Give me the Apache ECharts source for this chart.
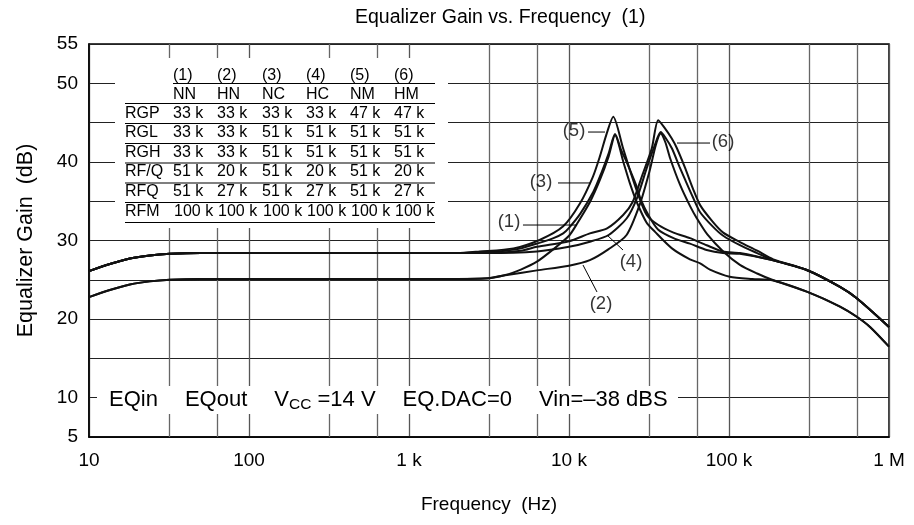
<!DOCTYPE html>
<html>
<head>
<meta charset="utf-8">
<script src="https://cdn.jsdelivr.net/npm/echarts@6/dist/echarts.min.js"></script>
<style>html,body{margin:0;padding:0;background:#fff}#c{width:914px;height:525px}</style>
</head>
<body>
<div id="c"></div>
<script>
// ---- data (frequency in Hz, gain in dB) ----
const curveNames = ['(1) NN', '(2) HN', '(3) NC', '(4) HC', '(5) NM', '(6) HM'];
const f1 = [10,13.5,18,24,32,50,100,300,1000,2000,3000,4000,5000,6300,8000,10000,11200,13600,15600,17700,19400,22000,24000,26500,30500,34500,44000,57000,66000,76000,101000,140000,186000,306000,494000,629000,761000,1000000];
const g1 = [22.8,23.7,24.4,24.8,25.0,25.1,25.1,25.1,25.1,25.1,25.15,25.6,26.3,27.3,28.9,30.6,32.1,35.0,37.7,40.7,43.4,39.8,37.3,34.9,32.3,31.1,29.0,27.6,27.1,26.3,25.4,25.1,24.95,23.5,21.6,20.3,19.0,16.5];
const f2 = [10,13.5,18,24,32,50,100,300,1000,2000,3100,4100,6300,10000,13500,17700,22900,27600,31800,34900,37400,40000,42800,49400,57000,63000,73000,92000,117000,150000,186000,306000,494000,629000,761000,1000000];
const g2 = [22.8,23.7,24.4,24.8,25.0,25.1,25.1,25.1,25.1,25.1,25.2,25.6,26.2,26.8,27.5,28.9,30.7,34.5,38.75,42.15,43.6,42.5,40.5,37.1,34.4,32.8,30.8,28.6,26.9,25.8,25.0,23.5,21.6,20.3,19.0,16.5];
const f3 = [10,13.5,18,24,32,50,100,300,1000,2000,3000,4000,5000,6300,8000,9200,10000,11800,14200,15900,17700,19400,21200,22900,26200,28000,31400,36000,45000,57000,72500,91500,117000,186000,306000,494000,629000,1000000];
const g3 = [26.1,27.0,27.7,28.1,28.3,28.4,28.4,28.4,28.4,28.4,28.5,28.7,29.0,29.6,30.3,30.9,31.6,33.45,36.2,38.55,41.1,43.55,41.5,40.0,37.1,35.3,33.2,31.4,30.3,29.6,28.8,28.4,28.3,27.5,26.25,24.1,22.65,19.0];
const f4 = [10,13.5,18,24,32,50,100,300,1000,2000,3000,6300,10000,13500,17700,22900,26600,30600,34400,37400,40000,44000,49000,53000,59500,66000,79000,92000,117000,150000,189000,306000,494000,629000,1000000];
const g4 = [26.1,27.0,27.7,28.1,28.3,28.4,28.4,28.4,28.4,28.4,28.4,28.6,29.2,29.85,30.7,32.8,35.4,39.2,42.15,43.8,43.1,41.7,39.4,37.8,35.5,33.6,31.8,30.6,29.4,28.4,27.5,26.25,24.1,22.65,19.0];
const f5 = [10,13.5,18,24,32,50,100,300,1000,2000,2760,4500,6600,9200,11700,14100,15600,17200,18900,21800,24600,27100,30600,36000,45000,57000,72500,91500,117000,186000,306000,494000,629000,1000000];
const g5 = [26.1,27.0,27.7,28.1,28.3,28.4,28.4,28.4,28.4,28.4,28.6,29.0,30.1,31.8,34.7,38.1,40.7,43.6,45.75,41.7,38.3,35.8,33.25,32.0,31.0,30.3,29.4,28.6,28.4,27.5,26.25,24.1,22.65,19.0];
const f6 = [10,13.5,18,24,32,50,100,300,1000,2000,3000,5000,6300,10000,13500,17300,21800,25000,28700,32900,36100,40000,43800,47100,53000,59500,66000,79000,92000,117000,150000,189000,306000,494000,629000,1000000];
const g6 = [26.1,27.0,27.7,28.1,28.3,28.4,28.4,28.4,28.4,28.4,28.4,28.7,29.2,29.9,30.9,31.55,33.25,34.9,38.3,41.7,45.3,44.2,43.0,41.8,39.3,36.6,34.5,32.4,31.0,29.8,28.7,27.6,26.25,24.1,22.65,19.0];

// curve label annotations (data space)
const curveLabels = ['(1)','(2)','(3)','(4)','(5)','(6)'];
const labelFreq = [4217, 15849, 6683, 24409, 10746, 91728];
const labelGain = [32.35, 21.92, 37.44, 27.26, 43.93, 42.53];
const leaderFromFreq = [5157, 12232, 8536, 17278, 13148, 47315];
const leaderFromGain = [31.97, 26.88, 37.32, 30.70, 43.8, 42.4];
const leaderToFreq = [11220, 14962, 13530, 21752, 16788, 76089];
const leaderToGain = [31.97, 23.45, 37.32, 28.79, 43.8, 42.4];

// axes
const xTickLabels = ['10', '100', '1 k', '10 k', '100 k', '1 M'];
const yTickLabels = [5, 10, 20, 30, 40, 50, 55];
const minorGridFreqs = [31.6, 63.1, 316, 631, 3160, 6310, 31600, 63100, 316000, 631000];

// parts table
const tableCols = ['(1)', '(2)', '(3)', '(4)', '(5)', '(6)'];
const tableCodes = ['NN', 'HN', 'NC', 'HC', 'NM', 'HM'];
const tableRows = ['RGP', 'RGL', 'RGH', 'RF/Q', 'RFQ', 'RFM'];
const tableValues = [
  ['33 k','33 k','33 k','33 k','47 k','47 k'],
  ['33 k','33 k','51 k','51 k','51 k','51 k'],
  ['33 k','33 k','51 k','51 k','51 k','51 k'],
  ['51 k','20 k','51 k','20 k','51 k','20 k'],
  ['51 k','27 k','51 k','27 k','51 k','27 k'],
  ['100 k','100 k','100 k','100 k','100 k','100 k']
];

// ---- chart ----
const FONT = '"Liberation Sans", Arial, Helvetica, sans-serif';
const zip = (f, g) => f.map((v, i) => [v, g[i]]);
const curves = [[f1,g1],[f2,g2],[f3,g3],[f4,g4],[f5,g5],[f6,g6]];

const series = curves.map((c, i) => ({
  name: curveNames[i], type: 'line', data: zip(c[0], c[1]),
  showSymbol: false, smooth: 0.25,
  lineStyle: { color: '#111', width: 2 }, z: 5, silent: true
}));

// minor vertical grid lines
series.push({
  type: 'line', data: [], silent: true, z: 1,
  markLine: {
    silent: true, symbol: ['none', 'none'], label: { show: false },
    lineStyle: { color: '#666', width: 1.3, type: 'solid' },
    data: minorGridFreqs.map(f => ({ xAxis: f }))
  }
});

// leader lines
curveLabels.forEach((l, i) => {
  series.push({
    type: 'line', silent: true, z: 6, showSymbol: false,
    lineStyle: { color: '#000', width: 1 },
    data: [[leaderFromFreq[i], leaderFromGain[i]], [leaderToFreq[i], leaderToGain[i]]]
  });
});

// curve labels
series.push({
  type: 'scatter', silent: true, z: 7, symbolSize: 1,
  itemStyle: { color: 'rgba(0,0,0,0)' },
  data: curveLabels.map((l, i) => [labelFreq[i], labelGain[i], l]),
  label: { show: true, position: 'inside', formatter: p => p.value[2],
    color: '#000', fontSize: 18.5, fontFamily: FONT }
});

// table graphics
const colX = [173, 217, 262, 306, 350, 394];
const rowY = [113.3, 132.5, 152.3, 172, 192, 211.7];
const graphics = [];
graphics.push({ type: 'rect', z: 50, shape: { x: 115, y: 58, width: 333, height: 170 }, style: { fill: '#fff' } });
const tstyle = (t, x, y) => ({ type: 'text', z: 52, x: x, y: y,
  style: { text: t, fill: '#000', fontSize: 16, fontFamily: FONT, verticalAlign: 'middle', align: 'left' } });
tableCols.forEach((t, j) => graphics.push(tstyle(t, colX[j], 76)));
tableCodes.forEach((t, j) => graphics.push(tstyle(t, colX[j], 94.5)));
tableRows.forEach((r, i) => {
  graphics.push(tstyle(r, 125, rowY[i]));
  tableValues[i].forEach((v, j) => graphics.push(tstyle(v, colX[j] + (i === 5 ? 1 : 0), rowY[i])));
});
const hl = (x1, x2, y) => ({ type: 'line', z: 51, shape: { x1: x1, y1: y, x2: x2, y2: y }, style: { stroke: '#000', lineWidth: 1.2 } });
graphics.push(hl(173, 435, 83.5));
[103.5, 123.5, 143.5, 163, 183, 202.5, 222.5].forEach(y => graphics.push(hl(125, 435, y)));

// bottom annotation
graphics.push({ type: 'rect', z: 50, shape: { x: 97, y: 386, width: 581, height: 28 }, style: { fill: '#fff' } });
graphics.push({ type: 'text', z: 52, x: 109, y: 400, style: {
  text: '{a|EQin}{g|}{a|EQout}{g|}{a|V}{s|CC}{a| =14 V}{g|}{a|EQ.DAC=0}{g|}{a|Vin=\u201338 dBS}',
  verticalAlign: 'middle', align: 'left',
  rich: {
    a: { fontSize: 22, fontFamily: FONT, fill: '#000' },
    g: { width: 27, fontSize: 22 },
    s: { fontSize: 15.5, fontFamily: FONT, fill: '#000', padding: [10, 0, 0, 0] }
  }
}});

const chart = echarts.init(document.getElementById('c'), null, { renderer: 'canvas' });
chart.setOption({
  animation: false,
  backgroundColor: '#fff',
  title: { text: 'Equalizer Gain vs. Frequency  (1)', left: 355, top: 8, padding: 0,
    textStyle: { fontSize: 19.5, fontWeight: 'normal', color: '#000', fontFamily: FONT } },
  grid: { left: 89, right: 25, top: 44, bottom: 88, show: true, borderColor: '#000', borderWidth: 1.5, backgroundColor: 'transparent' },
  xAxis: {
    type: 'log', logBase: 10, min: 10, max: 1000000,
    name: 'Frequency  (Hz)', nameLocation: 'middle', nameGap: 58,
    nameTextStyle: { fontSize: 19, color: '#000', fontFamily: FONT },
    axisLine: { show: true, lineStyle: { color: '#000', width: 1.5 } },
    axisTick: { show: false },
    axisLabel: { color: '#000', fontSize: 19, fontFamily: FONT, margin: 14,
      formatter: v => xTickLabels[Math.round(Math.log10(v)) - 1] },
    splitLine: { show: true, lineStyle: { color: '#555', width: 1.3 } },
    minorTick: { show: false }, minorSplitLine: { show: false }
  },
  yAxis: {
    type: 'value', min: 5, max: 55, interval: 5,
    name: 'Equalizer Gain  (dB)', nameLocation: 'middle', nameGap: 52, nameRotate: 90,
    nameTextStyle: { fontSize: 21.5, color: '#000', fontFamily: FONT },
    axisLine: { show: true, lineStyle: { color: '#000', width: 1.5 } },
    axisTick: { show: false },
    axisLabel: { color: '#000', fontSize: 19, fontFamily: FONT, margin: 11,
      formatter: v => (yTickLabels.indexOf(v) >= 0 ? String(v) : '') },
    splitLine: { show: true, lineStyle: { color: '#222', width: 1 } }
  },
  graphic: graphics,
  series: series
});
</script>
</body>
</html>
